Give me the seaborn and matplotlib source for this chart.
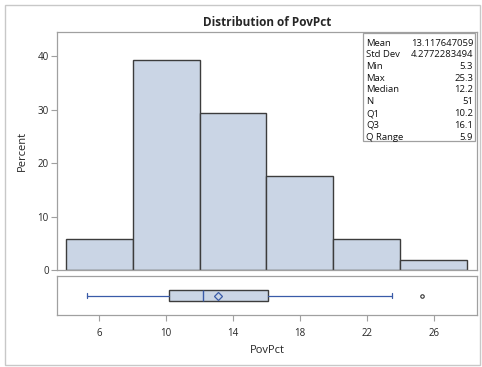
import matplotlib
matplotlib.use("Agg")
import matplotlib.pyplot as plt
from matplotlib.patches import Rectangle
import seaborn as sns
import numpy as np

# Histogram bins (PovPct) and percent of states in each bin
bin_edges = [4, 8, 12, 16, 20, 24, 28]
percent = [5.882, 39.216, 29.412, 17.647, 5.882, 1.961]

# Summary statistics
stat_labels = ["Mean", "Std Dev", "Min", "Max", "Median", "N", "Q1", "Q3", "Q Range"]
stat_values = ["13.117647059", "4.2772283494", "5.3", "25.3", "12.2", "51", "10.2", "16.1", "5.9"]

# Box plot summary
q1, median, q3 = 10.2, 12.2, 16.1
mean = 13.117647059
whisker_lo, whisker_hi = 5.3, 23.5
outliers = [25.3]

x_ticks = [6, 10, 14, 18, 22, 26]
y_ticks = [0, 10, 20, 30, 40]

W, H = 482, 367
sns.set_theme(style="white")
plt.rcParams["font.family"] = ["Open Sans", "DejaVu Sans"]

fill = "#CAD5E5"
edge = "#3C3C3C"
blue = "#3A5BA8"
frame = "#A0A0A0"

fig = plt.figure(figsize=(W / 100, H / 100), dpi=100)


def fig_rect(x0, y0, x1, y1):
    return [x0 / W, 1 - y1 / H, (x1 - x0) / W, (y1 - y0) / H]


ax = fig.add_axes(fig_rect(57, 32, 477, 270))
axb = fig.add_axes(fig_rect(57, 276, 477, 315), sharex=ax)

mids = [(a + b) / 2 for a, b in zip(bin_edges[:-1], bin_edges[1:])]
sns.histplot(x=mids, weights=percent, bins=bin_edges, ax=ax, color=fill,
             edgecolor=edge, linewidth=1.0, alpha=1.0)
ax.set_xlim(3.49, 28.57)
ax.set_ylim(0, 44.5)
ax.set_yticks(y_ticks)
ax.set_ylabel("Percent", fontsize=8, labelpad=7)
ax.set_xlabel("")
ax.tick_params(axis="x", which="both", bottom=False, labelbottom=False)
ax.tick_params(axis="y", length=4, width=0.8, color=frame, labelsize=7, pad=2, left=True)
for s in ax.spines.values():
    s.set_color(frame)
    s.set_linewidth(0.9)
ax.set_title("Distribution of PovPct", fontsize=8.5, fontweight="bold", pad=4.5)

# Statistics table in the upper right corner
tx0, ty0, tx1, ty1 = 363, 33, 475, 141
fig.patches.append(Rectangle((tx0 / W, 1 - ty1 / H), (tx1 - tx0) / W, (ty1 - ty0) / H,
                             transform=fig.transFigure, facecolor="white",
                             edgecolor=frame, linewidth=0.9, zorder=5))
row0, drow = 43, 11.75
for i, (lab, val) in enumerate(zip(stat_labels, stat_values)):
    yy = 1 - (row0 + i * drow) / H
    fig.text(366 / W, yy, lab, fontsize=6.8, ha="left", va="center", zorder=6, color="#111111")
    fig.text(473 / W, yy, val, fontsize=6.8, ha="right", va="center", zorder=6, color="#111111")

# Horizontal box plot
stats = [dict(med=median, q1=q1, q3=q3, whislo=whisker_lo, whishi=whisker_hi,
              mean=mean, fliers=outliers)]
axb.bxp(stats, positions=[1], widths=0.3, vert=False, showmeans=True, patch_artist=True,
        boxprops=dict(facecolor=fill, edgecolor=edge, linewidth=1.0),
        medianprops=dict(color=blue, linewidth=1.0),
        whiskerprops=dict(color=blue, linewidth=0.9),
        capprops=dict(color=blue, linewidth=0.9),
        capwidths=0.15,
        meanprops=dict(marker="D", markerfacecolor="none", markeredgecolor=blue,
                       markersize=4.5, markeredgewidth=0.9),
        flierprops=dict(marker="o", markerfacecolor="none", markeredgecolor="#333333",
                        markersize=2.5, markeredgewidth=0.8))
axb.set_ylim(0.5, 1.5)
axb.set_yticks([])
axb.set_xticks(x_ticks)
axb.set_xticklabels([str(t) for t in x_ticks])
axb.tick_params(axis="x", length=4, width=0.8, color=frame, labelsize=7, pad=5, bottom=True)
axb.set_xlabel("PovPct", fontsize=8, labelpad=5)
for s in axb.spines.values():
    s.set_color(frame)
    s.set_linewidth(0.9)
ax.set_xlim(3.49, 28.57)

# Outer border around the whole graph
fig.patches.append(Rectangle((5 / W, 1 - 365 / H), 475 / W, 360 / H,
                             transform=fig.transFigure, facecolor="none",
                             edgecolor="#C8C8C8", linewidth=1.0))

fig.savefig("out.png", dpi=100)
